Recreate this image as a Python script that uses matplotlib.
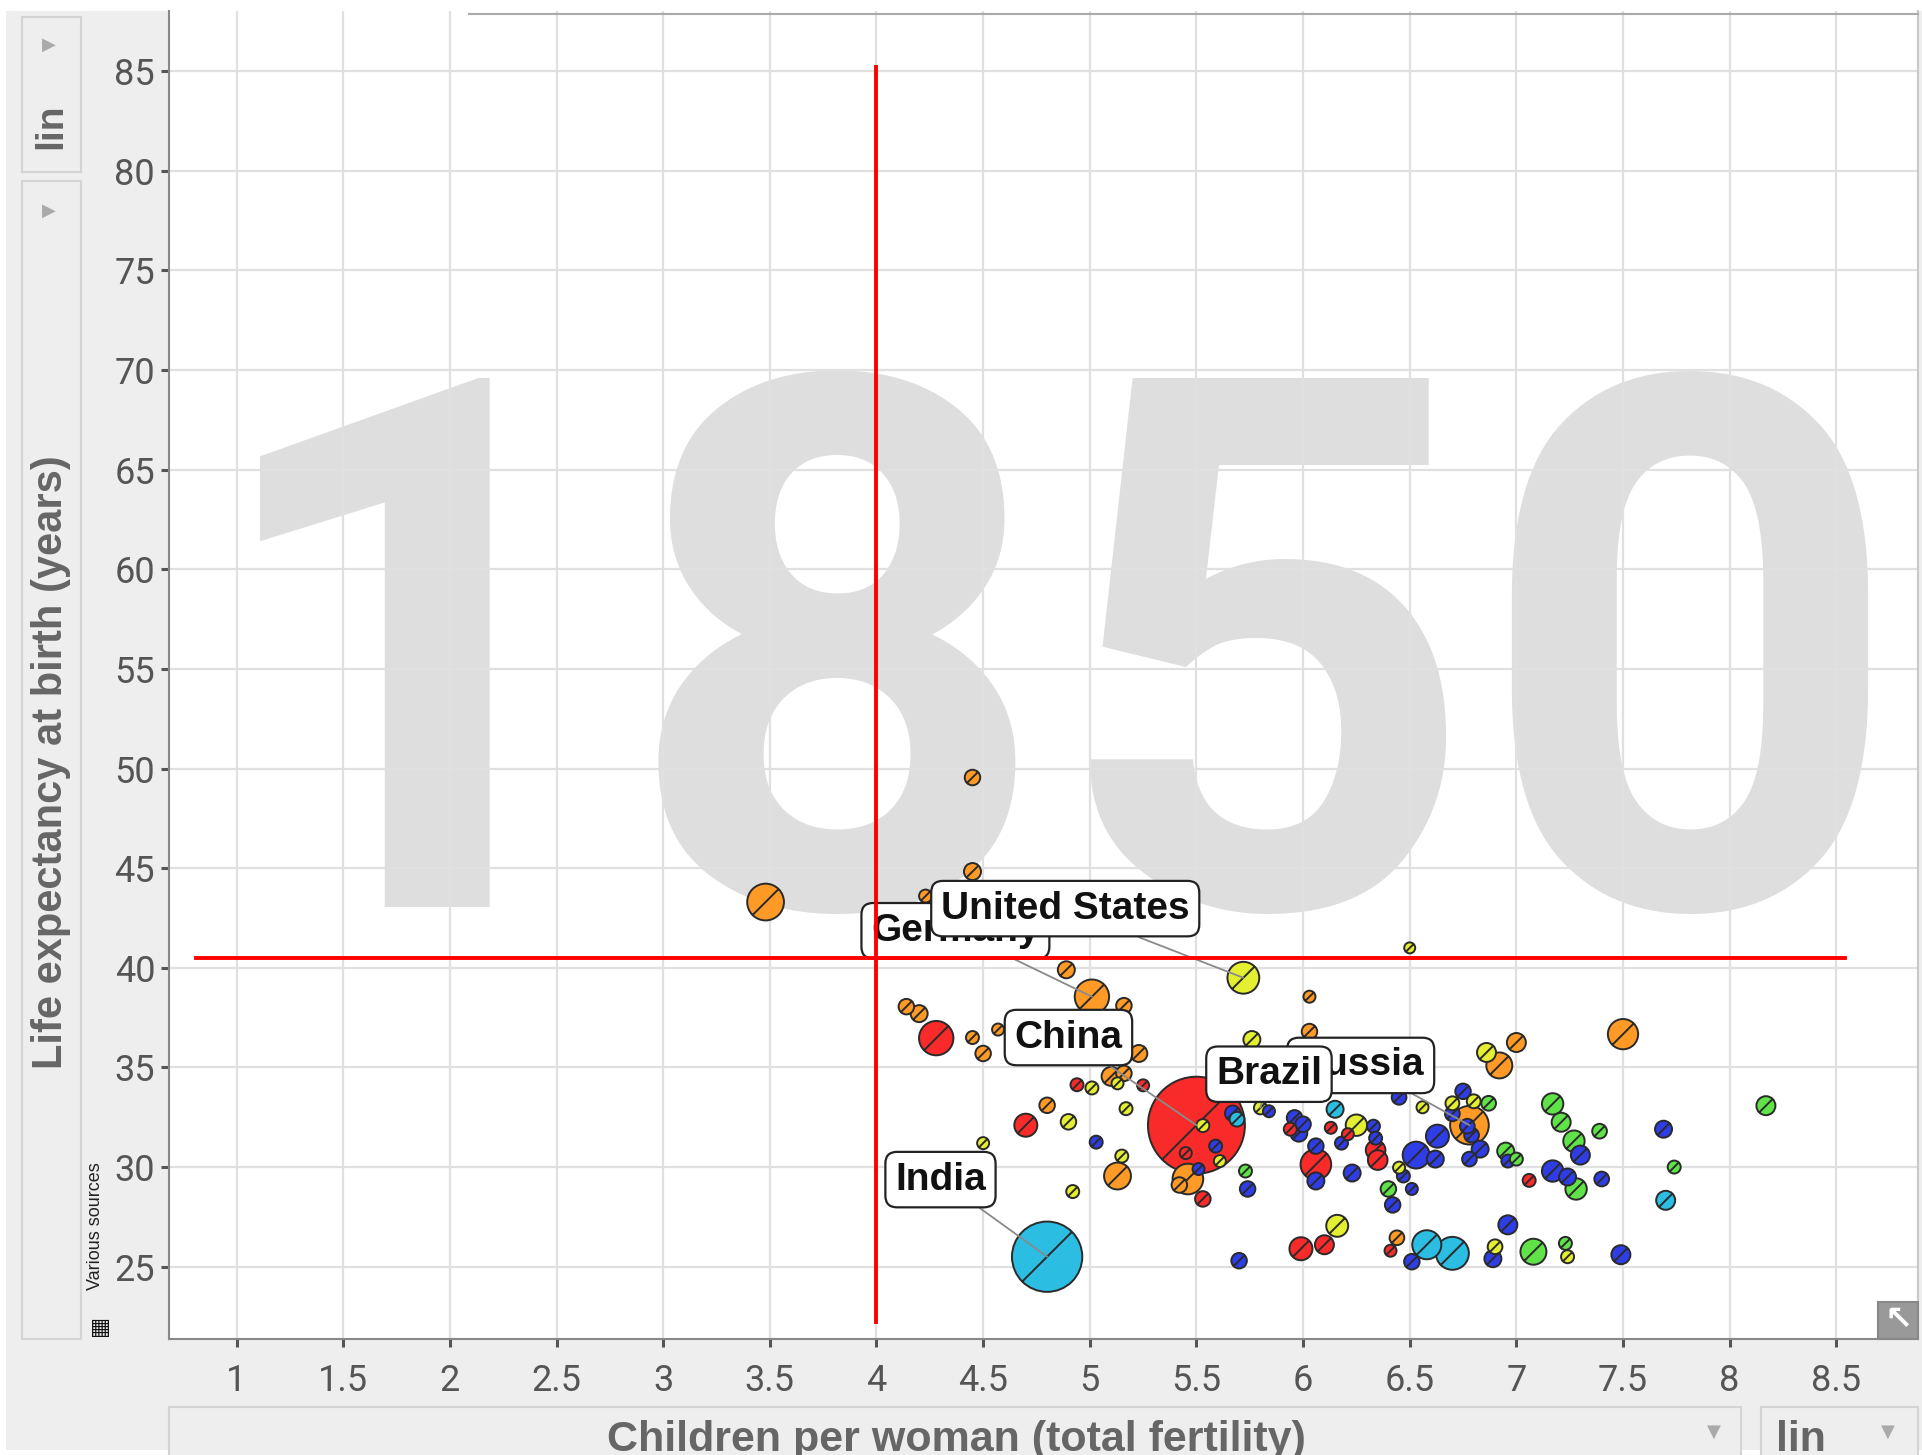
#Gapminder style bubble chart, snapshot of year 1850
import numpy as np
import matplotlib.pyplot as plt
from matplotlib.path import Path
from matplotlib.patches import Rectangle

#children per woman, life expectancy (years), population (millions), region
fertility = [4.45, 3.48, 4.45, 4.23, 4.89, 5.01, 6.03, 4.14, 4.2, 4.45, 4.5, 4.57, 5.16,
             5.23, 5.1, 5.16, 4.8, 5.13, 5.46, 5.42, 6.03, 7.0, 6.92, 7.5, 6.78, 6.44,
             4.28, 4.94, 5.25, 4.7, 5.5, 5.45, 5.53, 5.94, 6.06, 6.13, 6.21, 6.34, 6.35,
             5.99, 6.1, 6.41, 7.06,
             5.72, 6.5, 5.01, 5.13, 5.17, 4.9, 5.53, 5.61, 5.15, 4.5, 4.92, 5.76, 5.8,
             6.25, 6.86, 6.16, 6.45, 6.9, 7.24, 6.56, 6.7, 6.8,
             5.03, 5.59, 5.51, 5.74, 5.7, 5.67, 5.84, 5.96, 6.0, 5.98, 6.06, 6.06, 6.23,
             6.33, 6.18, 6.34, 6.47, 6.42, 6.51, 6.53, 6.62, 6.63, 6.51, 6.75, 6.7, 6.77,
             6.79, 6.83, 6.78, 6.96, 6.96, 7.69, 7.3, 7.17, 7.24, 7.4, 7.49, 6.89, 6.45,
             4.8, 6.15, 6.58, 6.7, 7.7, 5.69,
             5.73, 6.4, 7.17, 7.21, 8.17, 7.39, 7.27, 7.74, 7.28, 6.95, 7.0, 7.08, 7.23, 6.87]
life_exp = [49.55, 43.3, 44.83, 43.6, 39.9, 38.55, 38.55, 38.05, 37.7, 36.5, 35.7, 36.9, 38.1,
            35.7, 34.55, 34.7, 33.1, 29.55, 29.4, 29.1, 36.8, 36.25, 35.1, 36.67, 32.1, 26.45,
            36.47, 34.13, 34.1, 32.1, 32.1, 30.7, 28.4, 31.9, 30.13, 31.97, 31.65, 30.85, 30.35,
            25.9, 26.1, 25.8, 29.33,
            39.5, 41.0, 33.97, 34.2, 32.93, 32.27, 32.08, 30.3, 30.55, 31.2, 28.77, 36.4, 32.97,
            32.1, 35.75, 27.05, 29.97, 26.0, 25.5, 33.0, 33.2, 33.3,
            31.25, 31.05, 29.9, 28.9, 25.3, 32.7, 32.8, 32.47, 32.15, 31.7, 31.05, 29.3, 29.7,
            32.05, 31.2, 31.45, 29.55, 28.1, 28.9, 30.6, 30.4, 31.55, 25.25, 33.8, 32.67, 32.05,
            31.6, 30.9, 30.4, 30.3, 27.1, 31.9, 30.6, 29.8, 29.5, 29.4, 25.6, 25.4, 33.5,
            25.5, 32.9, 26.1, 25.67, 28.33, 32.4,
            29.8, 28.9, 33.17, 32.25, 33.08, 31.8, 31.3, 30.0, 28.9, 30.8, 30.4, 25.75, 26.17, 33.2]
population = [10, 56, 12, 7, 12, 49, 6, 10, 12, 7, 10, 6, 10,
              12, 15, 10, 10, 30, 39, 10, 10, 15, 28, 38, 62, 9,
              49, 7, 6, 22, 390, 6, 10, 7, 39, 6, 6, 16, 16,
              22, 15, 6, 7,
              42, 5, 7, 6, 7, 10, 7, 6, 7, 6, 7, 12, 7,
              19, 15, 20, 6, 9, 7, 6, 8, 8,
              7, 7, 6, 10, 10, 10, 6, 10, 10, 12, 10, 12, 12,
              7, 7, 7, 7, 10, 6, 30, 12, 22, 10, 10, 9, 9,
              9, 12, 9, 7, 15, 12, 15, 19, 12, 9, 15, 12, 9,
              205, 12, 35, 45, 15, 9,
              7, 10, 19, 15, 15, 9, 19, 7, 19, 12, 7, 28, 7, 9]
region = (['eur'] * 26 + ['eap'] * 17 + ['ame'] * 22 + ['ssa'] * 39
          + ['sas'] * 6 + ['mena'] * 14)

region_colors = {'eur': '#ff9a26', 'eap': '#f82a2a', 'ame': '#e3ef30',
                 'ssa': '#2e3de6', 'sas': '#2bbde2', 'mena': '#5fe348'}

#labelled countries and the bubble each one points to
label_names = ['Germany', 'United States', 'China', 'Russia', 'Brazil', 'India']
label_fert = [5.01, 5.72, 5.5, 6.78, 5.8, 4.8]
label_life = [38.55, 39.5, 32.1, 32.1, 32.97, 25.5]

#red guide lines
guide_fert = 4.0
guide_life = 40.5

year = '1850'
x_ticks = np.arange(1, 8.51, 0.5)
y_ticks = np.arange(25, 86, 5)

W, H = 1922, 1455


def fx(px):
    return px / W


def fy(py):
    return 1 - py / H


def box(fig, x0, y0, x1, y1, fc='#eeeeee', ec='#d4d4d4', z=1):
    fig.add_artist(Rectangle((fx(x0), fy(y1)), fx(x1) - fx(x0), fy(y0) - fy(y1),
                             transform=fig.transFigure, fc=fc, ec=ec, lw=1.5, zorder=z))


def main():
    plt.rcParams['font.family'] = ['Liberation Sans', 'DejaVu Sans']
    fig = plt.figure(figsize=(W / 100, H / 100), dpi=100, facecolor='white')

    #grey page behind the chart
    fig.add_artist(Rectangle((fx(6), fy(1450)), fx(1922) - fx(6), fy(11) - fy(1450),
                             transform=fig.transFigure, fc='#eeeeee', ec='none', zorder=-10))

    ax = fig.add_axes([fx(169), fy(1339), fx(1918) - fx(169), fy(11) - fy(1339)])
    ax.set_xlim(0.683, 8.883)
    ax.set_ylim(21.37, 88.02)
    ax.set_axisbelow(True)
    ax.grid(True, color='#e0e0e0', lw=1.6)

    #big year in the background
    ax.text(fx(1051), fy(907), year, transform=fig.transFigure, fontsize=535,
            family='Roboto', fontweight='bold', color='#dedede', ha='center',
            va='baseline', zorder=0.1)

    #bubble marker: circle with a slash
    slash = Path([(-0.707, -0.707), (0.707, 0.707)], [Path.MOVETO, Path.LINETO])
    bubble = Path.make_compound_path(Path.unit_circle(), slash)

    order = np.argsort(population)[::-1]
    xs = np.array(fertility)[order]
    ys = np.array(life_exp)[order]
    sizes = np.array(population)[order] * 12.5
    colors = [region_colors[region[i]] for i in order]
    ax.scatter(xs, ys, s=sizes, c=colors, marker=bubble, edgecolors='#2a2a2a',
               linewidths=1.4, zorder=3)

    #country labels with grey leader lines
    label_pos = {'Germany': (4.37, 41.86), 'United States': (4.885, 42.97),
                 'China': (4.9, 36.5), 'Russia': (6.27, 35.1),
                 'Brazil': (5.84, 34.66), 'India': (4.3, 29.37)}
    for name, lx, ly in zip(label_names, label_fert, label_life):
        ax.annotate(name, xy=(lx, ly), xytext=label_pos[name], textcoords='data',
                    ha='center', va='center', fontsize=28, fontweight='bold', color='#111111',
                    bbox=dict(boxstyle='round,pad=0.25,rounding_size=0.3', fc='white',
                              ec='#222222', lw=1.6),
                    arrowprops=dict(arrowstyle='-', color='#8a8a8a', lw=1.3,
                                    shrinkA=0, shrinkB=0),
                    zorder=5)

    ax.plot([guide_fert, guide_fert], [22.2, 85.2], color='red', lw=2.8, zorder=10)
    ax.plot([0.81, 8.54], [guide_life, guide_life], color='red', lw=2.8, zorder=10)

    ax.set_xticks(x_ticks)
    ax.set_xticklabels(['%g' % v for v in x_ticks], family='Roboto')
    ax.set_yticks(y_ticks)
    ax.set_yticklabels(['%d' % v for v in y_ticks], family='Roboto')
    ax.tick_params(direction='out', length=6, width=2.2, color='#555555',
                   labelcolor='#555555', labelsize=26)
    ax.tick_params(axis='x', pad=11)
    ax.tick_params(axis='y', pad=4)
    ax.spines['top'].set_visible(False)
    for side in ['left', 'bottom']:
        ax.spines[side].set_color('#888888')
        ax.spines[side].set_linewidth(1.5)
    ax.spines['right'].set_color('#c8c8c8')
    ax.spines['right'].set_linewidth(1.5)

    #top border line of the chart
    fig.add_artist(plt.Line2D([fx(469), fx(1918)], [fy(14), fy(14)], color='#aaaaaa',
                              lw=1.5, transform=fig.transFigure, zorder=5))

    #left controls
    box(fig, 22, 17, 81, 172)
    box(fig, 22, 181, 81, 1339)
    for ty in [45, 211]:
        fig.text(fx(49), fy(ty), '\u25b6', family='DejaVu Sans', fontsize=13,
                 color='#aaaaaa', ha='center', va='center')
    fig.text(fx(51), fy(126), 'lin', rotation=90, fontsize=28, fontweight='bold',
             color='#666666', ha='center', va='center')
    fig.text(fx(51), fy(762), 'Life expectancy at birth (years)', rotation=90, fontsize=30,
             fontweight='bold', color='#666666', ha='center', va='center')
    fig.text(fx(96), fy(1226), 'Various sources', rotation=90, fontsize=13,
             color='#222222', ha='center', va='center')
    fig.text(fx(100), fy(1328), '\u25a6', family='DejaVu Sans', fontsize=16,
             color='#111111', ha='center', va='center')

    #bottom controls
    box(fig, 169, 1407, 1741, 1475)
    box(fig, 1761, 1407, 1918, 1475)
    fig.text(fx(956), fy(1451), 'Children per woman (total fertility)', fontsize=31,
             fontweight='bold', color='#666666', ha='center', va='baseline')
    fig.text(fx(1801), fy(1451), 'lin', fontsize=31, fontweight='bold',
             color='#666666', ha='center', va='baseline')
    for tx in [1714, 1888]:
        fig.text(fx(tx), fy(1432), '\u25bc', family='DejaVu Sans', fontsize=13,
                 color='#aaaaaa', ha='center', va='center')

    #resize icon in the plot corner
    box(fig, 1878, 1302, 1918, 1339, fc='#999999', ec='#888888', z=6)
    fig.text(fx(1898), fy(1320), '\u2196', family='DejaVu Sans', fontsize=24,
             color='white', fontweight='bold', ha='center', va='center', zorder=7)

    plt.savefig('out.png', dpi=100, facecolor='white')


if __name__ == '__main__':
    main()
